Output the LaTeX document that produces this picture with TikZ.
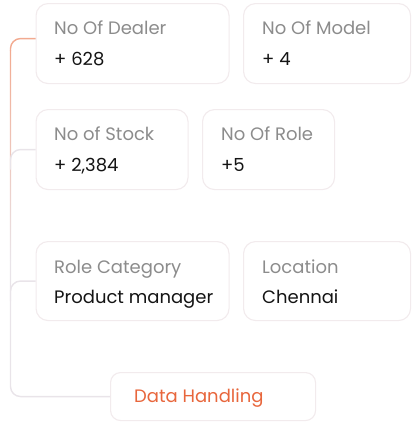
\documentclass[tikz,border=0pt]{standalone}
\usepackage{fontspec}
\setmainfont{Poppins}
\usetikzlibrary{positioning, calc}
\definecolor{cardEdge}{RGB}{242,235,237}
\definecolor{labGray}{RGB}{140,140,140}
\definecolor{valBlack}{RGB}{20,20,20}
\definecolor{dhOrange}{RGB}{232,102,60}
\definecolor{spineOrange}{RGB}{242,170,144}
\definecolor{spineGray}{RGB}{233,228,233}
\tikzset{
    card/.style={draw=cardEdge, line width=1.1pt, rounded corners=12pt, fill=white,
        anchor=north west, minimum height=80pt, inner sep=0pt},
    lab/.style={anchor=base west, inner sep=0pt, font=\fontsize{18}{21}\selectfont, text=labGray},
    val/.style={anchor=base west, inner sep=0pt, font=\fontsize{18}{21}\selectfont, text=valBlack},
    branch/.style={draw=spineGray, line width=1.4pt, rounded corners=10pt},
}

\begin{document}
\begin{tikzpicture}[x=1pt, y=-1pt]
    \useasboundingbox (0,0) rectangle (414,426);
    % cards, top to bottom
    \node[card, minimum width=193pt] (dealer) at (35.5,3) {};
    \node[card, minimum width=167pt] (model) at (243,3) {};
    \node[card, minimum width=152pt] (stock) at (35.5,109) {};
    \node[card, minimum width=132pt] (role) at (202,109) {};
    \node[card, minimum width=193pt, minimum height=79pt] (category) at (35.5,241) {};
    \node[card, minimum width=167pt, minimum height=79pt] (location) at (243,241) {};
    \node[card, minimum width=205pt, minimum height=48pt, rounded corners=10pt] (data) at (110,372) {};
    % card texts
    \node[lab] (dealerlab) at ($(dealer.north west)+(18.5,31)$) {No Of Dealer};
    \node[val] (dealerval) at ($(dealer.north west)+(18.5,62)$) {+ 628};
    \node[lab] (modellab) at ($(model.north west)+(19,31)$) {No Of Model};
    \node[val] (modelval) at ($(model.north west)+(19,62)$) {+ 4};
    \node[lab] (stocklab) at ($(stock.north west)+(18.5,31)$) {No of Stock};
    \node[val] (stockval) at ($(stock.north west)+(18.5,62)$) {+ 2,384};
    \node[lab] (rolelab) at ($(role.north west)+(19,31)$) {No Of Role};
    \node[val] (roleval) at ($(role.north west)+(19,62)$) {+5};
    \node[lab] (categorylab) at ($(category.north west)+(18.5,32)$) {Role Category};
    \node[val] (categoryval) at ($(category.north west)+(18.5,62)$) {Product manager};
    \node[lab] (locationlab) at ($(location.north west)+(19,32)$) {Location};
    \node[val] (locationval) at ($(location.north west)+(19,62)$) {Chennai};
    \node[lab, text=dhOrange] (datalab) at ($(data.north west)+(24,30)$) {Data Handling};
    % spine: orange at the top, fading to gray
    \coordinate (spinetop) at ($(dealer.west)+(-25,7)$);
    \coordinate (fade) at ($(spinetop)+(0,210)$);
    \draw[draw=spineOrange, line width=1.4pt, rounded corners=10pt]
        ($(dealer.west)+(0,-5)$) -| (spinetop);
    \shade[top color=spineOrange, bottom color=spineGray]
        ($(spinetop)+(-0.7,0)$) rectangle ($(fade)+(0.7,0)$);
    \draw[branch] (fade) |- (data.west);
    % branches into the spine
    \draw[branch] (stock.west) -| ++(-25,20);
    \draw[branch] (category.west) -| ++(-25,20);
\end{tikzpicture}
\end{document}
